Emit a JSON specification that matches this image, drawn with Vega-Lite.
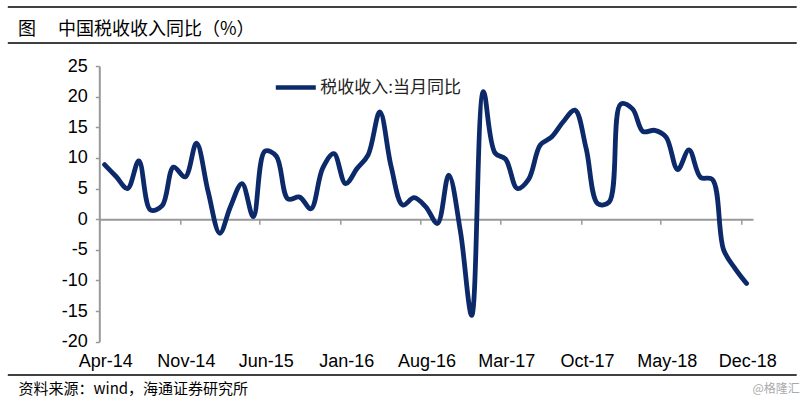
{
  "$schema": "https://vega.github.io/schema/vega-lite/v6.json",
  "width": 653.7,
  "height": 275.7,
  "autosize": "none",
  "padding": {"left": 99.3, "top": 66, "right": 52, "bottom": 61.3},
  "background": "white",
  "config": {"view": {"stroke": null}, "font": "Liberation Sans"},
  "title": {
    "text": "图　 中国税收收入同比（%）",
    "anchor": "start",
    "frame": "group",
    "orient": "top",
    "dx": -81.3,
    "dy": 47,
    "offset": 0,
    "baseline": "alphabetic",
    "font": "Noto Sans CJK SC",
    "fontSize": 18,
    "fontWeight": "normal",
    "color": "#000000"
  },
  "data": {
    "values": [
      {"month": "2014-04-15", "value": 8.9},
      {"month": "2014-05-15", "value": 7.0},
      {"month": "2014-06-15", "value": 5.0},
      {"month": "2014-07-15", "value": 9.5},
      {"month": "2014-08-15", "value": 1.5},
      {"month": "2014-09-15", "value": 2.2},
      {"month": "2014-10-15", "value": 8.5},
      {"month": "2014-11-15", "value": 6.9},
      {"month": "2014-12-15", "value": 12.4},
      {"month": "2015-01-15", "value": 4.5},
      {"month": "2015-02-15", "value": -2.3},
      {"month": "2015-03-15", "value": 2.0},
      {"month": "2015-04-15", "value": 5.8},
      {"month": "2015-05-15", "value": 0.4},
      {"month": "2015-06-15", "value": 11.1},
      {"month": "2015-07-15", "value": 10.3},
      {"month": "2015-08-15", "value": 3.3},
      {"month": "2015-09-15", "value": 3.6},
      {"month": "2015-10-15", "value": 1.7},
      {"month": "2015-11-15", "value": 8.3},
      {"month": "2015-12-15", "value": 10.7},
      {"month": "2016-01-15", "value": 5.8},
      {"month": "2016-02-15", "value": 8.3},
      {"month": "2016-03-15", "value": 10.5},
      {"month": "2016-04-15", "value": 17.5},
      {"month": "2016-05-15", "value": 8.6},
      {"month": "2016-06-15", "value": 2.3},
      {"month": "2016-07-15", "value": 3.5},
      {"month": "2016-08-15", "value": 2.0},
      {"month": "2016-09-15", "value": -0.7},
      {"month": "2016-10-15", "value": 7.2},
      {"month": "2016-11-15", "value": -2.0},
      {"month": "2016-12-15", "value": -15.7},
      {"month": "2017-01-15", "value": 20.8},
      {"month": "2017-02-15", "value": 10.8},
      {"month": "2017-03-15", "value": 9.8},
      {"month": "2017-04-15", "value": 5.0},
      {"month": "2017-05-15", "value": 6.5},
      {"month": "2017-06-15", "value": 12.1},
      {"month": "2017-07-15", "value": 13.4},
      {"month": "2017-08-15", "value": 15.9},
      {"month": "2017-09-15", "value": 17.8},
      {"month": "2017-10-15", "value": 11.5},
      {"month": "2017-11-15", "value": 2.5},
      {"month": "2017-12-15", "value": 2.8},
      {"month": "2018-01-15", "value": 18.8},
      {"month": "2018-02-15", "value": 18.0},
      {"month": "2018-03-15", "value": 14.3},
      {"month": "2018-04-15", "value": 14.5},
      {"month": "2018-05-15", "value": 13.4},
      {"month": "2018-06-15", "value": 8.1},
      {"month": "2018-07-15", "value": 11.3},
      {"month": "2018-08-15", "value": 6.8},
      {"month": "2018-09-15", "value": 6.5},
      {"month": "2018-10-15", "value": -5.0},
      {"month": "2018-11-15", "value": -8.1},
      {"month": "2018-12-15", "value": -10.5}
    ]
  },
  "layer": [
    {
      "mark": {"type": "line", "interpolate": "catmull-rom", "strokeWidth": 4.8, "strokeCap": "round", "strokeJoin": "round"},
      "encoding": {
        "x": {
          "field": "month",
          "type": "temporal",
          "scale": {
            "domain": [{"year": 2014, "month": 4, "date": 1}, {"year": 2019, "month": 1, "date": 1}],
            "nice": false
          },
          "axis": {
            "values": [
              {"year": 2014, "month": 4, "date": 1},
              {"year": 2014, "month": 11, "date": 1},
              {"year": 2015, "month": 6, "date": 1},
              {"year": 2016, "month": 1, "date": 1},
              {"year": 2016, "month": 8, "date": 1},
              {"year": 2017, "month": 3, "date": 1},
              {"year": 2017, "month": 10, "date": 1},
              {"year": 2018, "month": 5, "date": 1},
              {"year": 2018, "month": 12, "date": 1}
            ],
            "format": "%b-%y",
            "offset": -122.53,
            "grid": false,
            "tickSize": 5,
            "tickWidth": 1.5,
            "tickColor": "#999999",
            "domainColor": "#999999",
            "domainWidth": 2,
            "labelPadding": 128,
            "labelOffset": 6,
            "labelFlush": false,
            "labelOverlap": false,
            "labelFont": "Liberation Sans",
            "labelFontSize": 18,
            "labelColor": "#000000",
            "title": "@格隆汇",
            "titleX": 700,
            "titleY": 169,
            "titleAlign": "right",
            "titleBaseline": "middle",
            "titleAnchor": null,
            "titleFont": "Noto Sans CJK SC",
            "titleFontSize": 12,
            "titleFontWeight": "normal",
            "titleColor": "#aaaaaa"
          }
        },
        "y": {
          "field": "value",
          "type": "quantitative",
          "scale": {"domain": [-20, 25], "nice": false, "zero": false},
          "axis": {
            "values": [-20, -15, -10, -5, 0, 5, 10, 15, 20, 25],
            "tickCount": 10,
            "labelExpr": "'' + datum.value",
            "grid": false,
            "tickSize": 4,
            "tickWidth": 1.5,
            "tickColor": "#999999",
            "domainColor": "#999999",
            "domainWidth": 2,
            "labelPadding": 8,
            "labelOverlap": false,
            "labelFont": "Liberation Sans",
            "labelFontSize": 18,
            "labelColor": "#000000",
            "title": "资料来源：wind，海通证券研究所",
            "titleAngle": 0,
            "titleX": -81.3,
            "titleY": 322,
            "titleAlign": "left",
            "titleBaseline": "middle",
            "titleAnchor": null,
            "titleFont": "Noto Sans CJK SC",
            "titleFontSize": 15,
            "titleFontWeight": "normal",
            "titleColor": "#000000"
          }
        },
        "color": {
          "datum": "税收收入:当月同比",
          "scale": {"range": ["#0C2A6A"]},
          "legend": {
            "orient": "none",
            "legendX": 174,
            "legendY": -1,
            "title": null,
            "symbolType": "stroke",
            "symbolSize": 1600,
            "symbolStrokeWidth": 4.5,
            "labelFont": "Noto Sans CJK SC",
            "labelFontSize": 17,
            "labelColor": "#222222",
            "labelOffset": 2
          }
        }
      }
    },
    {
      "data": {"values": [{"level": 34.63}, {"level": 28.75}, {"level": -25.43}]},
      "mark": {"type": "rule", "clip": false, "color": "#000000", "strokeWidth": 1.5},
      "encoding": {
        "x": {"datum": {"year": 2013, "month": 8, "date": 1}, "type": "temporal"},
        "x2": {"datum": {"year": 2019, "month": 4, "date": 27}},
        "y": {"field": "level", "type": "quantitative"}
      }
    }
  ]
}
